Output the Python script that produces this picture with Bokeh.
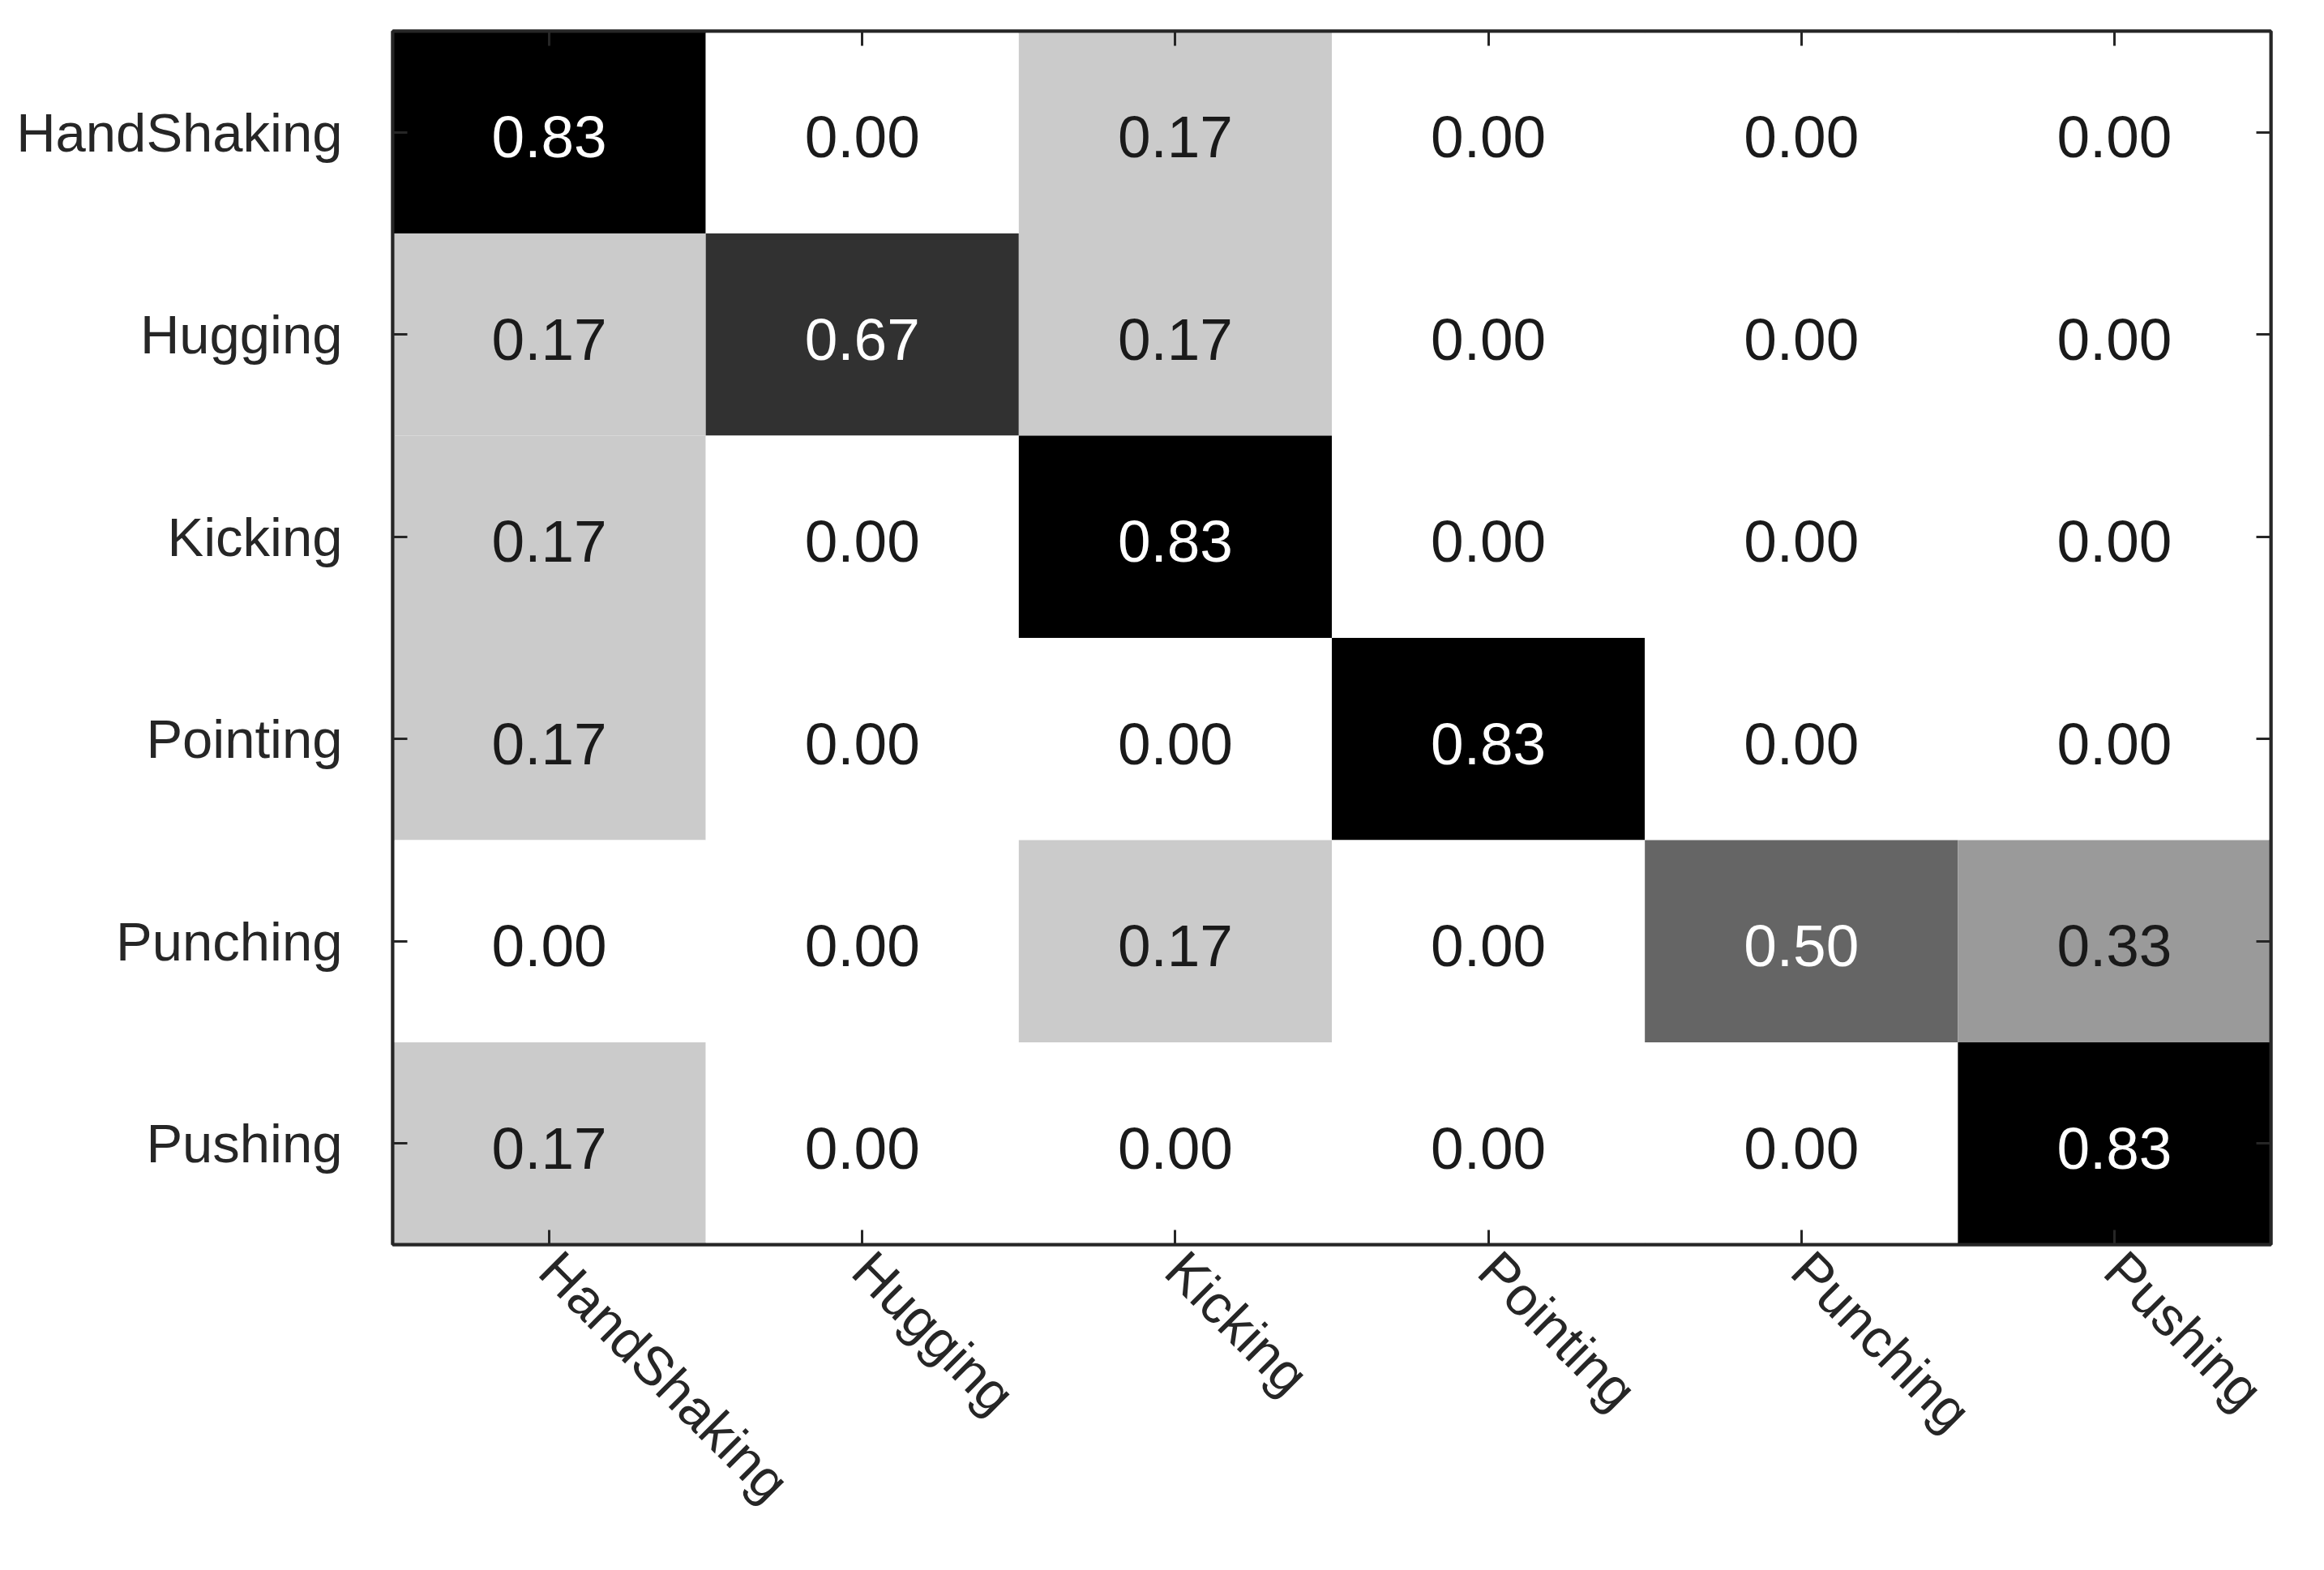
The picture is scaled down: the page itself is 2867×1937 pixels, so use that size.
import math
from bokeh.plotting import figure
from bokeh.models import ColumnDataSource, FactorRange, LinearColorMapper, CategoricalAxis
from bokeh.transform import transform
from bokeh.palettes import gray
from bokeh.core.properties import value
from bokeh.embed import file_html
from bokeh.resources import INLINE

# ---- data ----
classes = ["HandShaking", "Hugging", "Kicking", "Pointing", "Punching", "Pushing"]
# rows = true class, columns = predicted class
row_handshaking = [0.83, 0.00, 0.17, 0.00, 0.00, 0.00]
row_hugging     = [0.17, 0.67, 0.17, 0.00, 0.00, 0.00]
row_kicking     = [0.17, 0.00, 0.83, 0.00, 0.00, 0.00]
row_pointing    = [0.17, 0.00, 0.00, 0.83, 0.00, 0.00]
row_punching    = [0.00, 0.00, 0.17, 0.00, 0.50, 0.33]
row_pushing     = [0.17, 0.00, 0.00, 0.00, 0.00, 0.83]
rows = [row_handshaking, row_hugging, row_kicking, row_pointing, row_punching, row_pushing]

xs, ys, vals, txt = [], [], [], []
for r, row in zip(classes, rows):
    for c, v in zip(classes, row):
        xs.append(c)
        ys.append(r)
        vals.append(v)
        txt.append(f"{v:.2f}")
source = ColumnDataSource(dict(x=xs, y=ys, value=vals, label=txt))

FONT = "Liberation Sans"
AX = "#262626"

p = figure(x_range=FactorRange(factors=classes),
           y_range=FactorRange(factors=list(reversed(classes))),
           frame_width=2317, frame_height=1497,
           min_border_left=484, min_border_top=38,
           min_border_right=40, min_border_bottom=380,
           output_backend="svg", toolbar_location=None,
           x_axis_location="below")

cmap = LinearColorMapper(palette=list(reversed(gray(256))), low=0.0, high=0.83)
tmap = LinearColorMapper(palette=["#1a1a1a", "#ffffff"], low=0.0, high=0.83)

p.rect(x="x", y="y", width=1.0, height=1.0, source=source,
       fill_color=transform("value", cmap), line_color=None)
p.text(x="x", y="y", text="label", source=source,
       text_align="center", text_baseline="middle", y_offset=6,
       text_font=value(FONT), text_font_size="73px",
       text_color=transform("value", tmap))

p.grid.visible = False
p.outline_line_color = AX
p.outline_line_width = 4
p.background_fill_color = "white"
p.border_fill_color = "white"

def style_axis(ax, labels=True):
    ax.axis_line_color = AX
    ax.axis_line_width = 4
    ax.major_tick_line_color = AX
    ax.major_tick_line_width = 3
    ax.major_tick_in = 18
    ax.major_tick_out = 0
    ax.minor_tick_line_color = None
    ax.major_label_text_font = FONT
    ax.major_label_text_font_size = "67px"
    ax.major_label_text_color = AX
    if not labels:
        # tick marks only (box-style axes on top / right)
        ax.major_label_text_color = None
        ax.major_label_text_font_size = "10px"
        ax.major_label_standoff = 0

xb = p.xaxis[0]
style_axis(xb)
xb.major_label_orientation = -math.pi / 4
xb.major_label_standoff = 20

yl = p.yaxis[0]
style_axis(yl)
yl.major_label_standoff = 62

xt = CategoricalAxis()
style_axis(xt, labels=False)
p.add_layout(xt, "above")

yr = CategoricalAxis()
style_axis(yr, labels=False)
p.add_layout(yr, "right")

open("out.html", "w").write(file_html(p, INLINE))
